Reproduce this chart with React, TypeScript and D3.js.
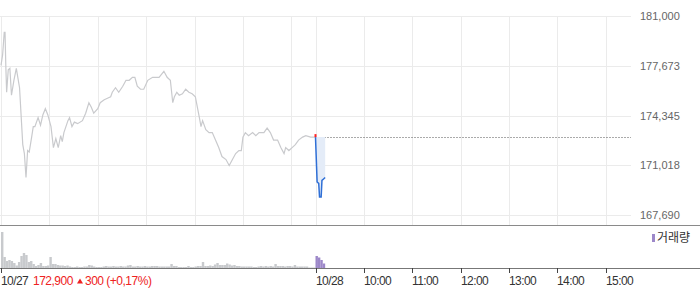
import React from "react";
import * as d3 from "d3";

// ---- data ----
const prevDayMinutes = [0, 2, 4, 5, 6, 7, 9, 11, 13, 16, 19, 23, 27, 29, 31, 33, 35, 38, 40, 42, 46, 49, 52, 55, 58, 62, 65, 68, 71, 74, 76, 78, 83, 85, 88, 91, 95, 101, 105, 109, 112, 115, 120, 123, 128, 132, 136, 138, 142, 146, 151, 155, 159, 163, 166, 169, 173, 177, 182, 188, 190, 196, 202, 206, 210, 213, 215, 218, 221, 225, 229, 233, 237, 241, 246, 248, 250, 254, 258, 262, 266, 270, 274, 279, 283, 287, 291, 295, 298, 300, 303, 307, 312, 316, 320, 326, 330, 334, 338, 343, 347, 351, 353, 357, 361, 365, 369, 374, 378, 384, 390];
const prevDayPrices = [177700, 178400, 179900, 179900, 177600, 175900, 177400, 177500, 175700, 176700, 177500, 176200, 172400, 171800, 170200, 172000, 171900, 172900, 173600, 173600, 174200, 173700, 174400, 174800, 174400, 173600, 172200, 172800, 172200, 173000, 172600, 173200, 174000, 174200, 173600, 173900, 173800, 174000, 174500, 175200, 174900, 174500, 174800, 175200, 175400, 175500, 175600, 175900, 176200, 175900, 176300, 176700, 176700, 176900, 176900, 176300, 176100, 176100, 176700, 176900, 176900, 176900, 177300, 176900, 176700, 175200, 175600, 175900, 175700, 175800, 176100, 175900, 175800, 175600, 174200, 173600, 174000, 173400, 173200, 173200, 172700, 172200, 171600, 171400, 171000, 171400, 171800, 172000, 172000, 172900, 173200, 173000, 173200, 173000, 173200, 173200, 173500, 173200, 172700, 172700, 172200, 171800, 172200, 172000, 172200, 172400, 172700, 172900, 173000, 172900, 172900];

const todayMinutes = [0, 2, 4, 5, 7, 8, 10, 12];
const todayPrices = [172900, 169900, 169800, 168900, 168900, 170000, 170100, 170200];

// 3-minute volume bars
const prevDayVolume = [
  360, 110, 70, 80, 70, 50, 25, 60, 120, 150,
  130, 60, 70, 40, 20, 30, 50, 20, 20, 25,
  110, 40, 40, 30, 25, 25, 20, 25, 15, 10,
  10, 15, 10, 10, 15, 15, 30, 25, 15, 10,
  10, 10, 15, 20, 15, 15, 20, 15, 15, 20,
  15, 15, 25, 30, 15, 15, 20, 15, 15, 20,
  15, 15, 20, 20, 20, 15, 15, 15, 15, 15,
  40, 20, 20, 10, 10, 10, 10, 20, 10, 10,
  15, 20, 20, 60, 20, 20, 25, 20, 35, 50,
  30, 30, 30, 45, 35, 25, 30, 20, 20, 15,
  15, 15, 15, 15, 10, 10, 15, 20, 15, 20,
  15, 20, 15, 40, 20, 20, 20, 15, 20, 20,
  15, 30, 15, 15, 15, 15, 15, 5, 5, 5,
];
const todayVolume = [120, 105, 80, 45];

const prevClose = 172900;
const openTick = 173100;
const yTicks = [181000, 177673, 174345, 171018, 167690];
const xTickMinutes = [0, 390, 450, 510, 570, 630, 690, 750];
const xTickLabels = ["10/27", "10/28", "10:00", "11:00", "12:00", "13:00", "14:00", "15:00"];
const gridMinutes = [0, 60, 120, 180, 240, 300, 360, 390, 450, 510, 570, 630, 690, 750];
const summaryPrice = "172,900";
const summaryChange = "300 (+0,17%)";
const legendLabel = "거래량";

const W = 700;
const H = 289;
const FONT = "'Liberation Sans', Arial, sans-serif";

export default function App() {
  const x = d3.scaleLinear().domain([0, 780]).range([1, 630]);
  const y = d3.scaleLinear().domain([167690, 181000]).range([215, 16]);
  const yv = d3.scaleLinear().domain([0, 400]).range([268, 228]);

  const line = d3
    .line<[number, number]>()
    .x((d) => x(d[0]))
    .y((d) => y(d[1]));
  const prevData: [number, number][] = prevDayMinutes.map((m, i) => [m, prevDayPrices[i]]);
  const todayData: [number, number][] = todayMinutes.map((m, i) => [390 + m, todayPrices[i]]);
  const area = d3
    .area<[number, number]>()
    .x((d) => x(d[0]))
    .y0(y(prevClose))
    .y1((d) => y(d[1]));

  const barW = x(3) - x(0);

  return (
    <svg width={W} height={H} style={{ position: "absolute", left: 0, top: 0, background: "#fff" }}>
      {/* horizontal grid */}
      {yTicks.map((t) => (
        <line key={"h" + t} x1={0} x2={631} y1={Math.round(y(t)) + 0.5} y2={Math.round(y(t)) + 0.5} stroke="#ebebeb" />
      ))}
      {/* vertical grid */}
      {gridMinutes.map((m) => (
        <line key={"v" + m} x1={Math.round(x(m)) + 0.5} x2={Math.round(x(m)) + 0.5} y1={16} y2={225} stroke="#ebebeb" />
      ))}
      {/* y labels */}
      {yTicks.map((t) => (
        <text key={"yl" + t} x={640} y={y(t) + 4} fontSize={11} fill="#666" fontFamily={FONT}>
          {d3.format(",")(t)}
        </text>
      ))}
      {/* previous close dotted line */}
      <line x1={x(390)} x2={631} y1={Math.round(y(prevClose)) + 0.5} y2={Math.round(y(prevClose)) + 0.5} stroke="#555" strokeDasharray="1 2" />
      {/* previous day price */}
      <path d={line(prevData) || ""} fill="none" stroke="#c9cacd" strokeWidth={1.2} />
      {/* today area and line */}
      <path d={area(todayData) || ""} fill="#e4ecf8" />
      <path d={line(todayData) || ""} fill="none" stroke="#2f6fd6" strokeWidth={1.5} />
      <line x1={x(390)} x2={x(390)} y1={y(openTick)} y2={y(prevClose)} stroke="#ff2020" strokeWidth={2} />

      {/* panel separator */}
      <line x1={0} x2={W} y1={225.5} y2={225.5} stroke="#8a8a8a" />

      {/* volume bars */}
      {prevDayVolume.map((v, i) => (
        <rect key={"pv" + i} x={x(i * 3)} y={yv(v)} width={barW} height={yv(0) - yv(v)} fill="#c8cacd" />
      ))}
      {todayVolume.map((v, i) => (
        <rect key={"tv" + i} x={x(390 + i * 3)} y={yv(v)} width={barW} height={yv(0) - yv(v)} fill="#9d88c9" />
      ))}

      {/* legend */}
      <rect x={652} y={234} width={3} height={8} fill="#9d88c9" />
      <text x={657} y={242} fontSize={12} fill="#333" fontFamily="'Noto Sans CJK KR', sans-serif">
        {legendLabel}
      </text>

      {/* x axis */}
      <line x1={0} x2={W} y1={268.5} y2={268.5} stroke="#777" />
      {xTickMinutes.map((m, i) => (
        <g key={"xt" + m}>
          <line x1={Math.round(x(m)) + 0.5} x2={Math.round(x(m)) + 0.5} y1={268} y2={273} stroke="#444" />
          <text x={Math.round(x(m))} y={285} fontSize={12} letterSpacing={-0.6} fill="#333" fontFamily={FONT}>
            {xTickLabels[i]}
          </text>
        </g>
      ))}

      {/* summary */}
      <text x={33} y={285} fontSize={12} letterSpacing={-0.5} fill="#ee2222" fontFamily={FONT}>
        {summaryPrice}
      </text>
      <path d="M77,283.5 L80,278.5 L83,283.5 Z" fill="#ee2222" />
      <text x={85} y={285} fontSize={12} letterSpacing={-0.5} fill="#ee2222" fontFamily={FONT}>
        {summaryChange}
      </text>
    </svg>
  );
}
